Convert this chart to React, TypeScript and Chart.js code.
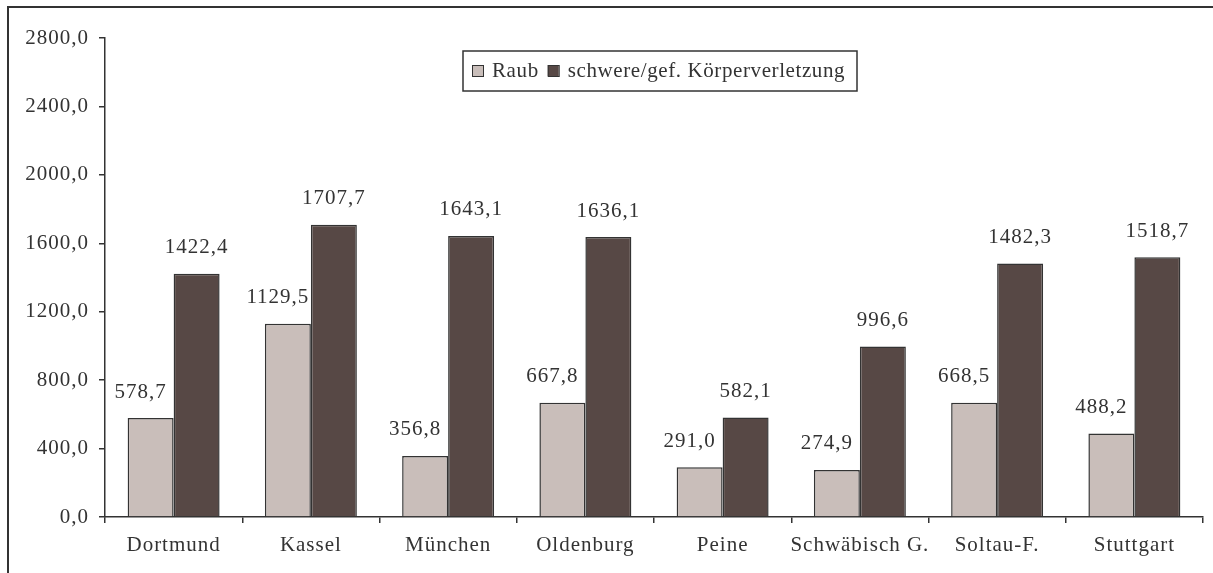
import React, { useEffect, useRef } from "react";
import { Chart, registerables } from "chart.js";

Chart.register(...registerables);

const categories = ["Dortmund", "Kassel", "München", "Oldenburg", "Peine", "Schwäbisch G.", "Soltau-F.", "Stuttgart"];
const raub = [578.7, 1129.5, 356.8, 667.8, 291.0, 274.9, 668.5, 488.2];
const koerper = [1422.4, 1707.7, 1643.1, 1636.1, 582.1, 996.6, 1482.3, 1518.7];
const seriesNames = ["Raub", "schwere/gef. Körperverletzung"];
const yMin = 0;
const yMax = 2800;
const yStep = 400;

const FONT = '"Liberation Serif"';
const TEXT = "#333333";
const EDGE = "#333333";
const COLORS = ["#C9BEBA", "#574845"];
const SPACING = "1px";
const LEGEND_SPACING = "0.6px";

const fmt = (v: number) => v.toFixed(1).replace(".", ",");

function drawLabels(chart: any, index: number, shift: number) {
  const { ctx } = chart;
  const meta = chart.getDatasetMeta(index);
  const ds = chart.data.datasets[index];
  ctx.save();
  ctx.font = `21px ${FONT}`;
  (ctx as any).letterSpacing = SPACING;
  ctx.fillStyle = TEXT;
  ctx.textAlign = "center";
  ctx.textBaseline = "middle";
  meta.data.forEach((el: any, i: number) => {
    ctx.fillText(fmt(ds.data[i]), el.x + shift, el.y - 26);
  });
  ctx.restore();
}

const labelsPlugin = {
  id: "valueLabels",
  beforeUpdate(chart: any) {
    (chart.ctx as any).letterSpacing = SPACING;
  },
  beforeDraw(chart: any) {
    (chart.ctx as any).letterSpacing = SPACING;
  },
  beforeDatasetsDraw(chart: any) {
    drawLabels(chart, 0, -10);
  },
  afterDatasetsDraw(chart: any) {
    drawLabels(chart, 1, 0);
  },
  afterDraw(chart: any) {
    const { ctx } = chart;
    ctx.save();
    (ctx as any).letterSpacing = LEGEND_SPACING;
    ctx.strokeStyle = EDGE;
    ctx.lineWidth = 2;
    ctx.strokeRect(8, 7, 1400, 800);
    const bx = 463, by = 51, bw = 394, bh = 40;
    ctx.fillStyle = "#ffffff";
    ctx.fillRect(bx, by, bw, bh);
    ctx.lineWidth = 1.5;
    ctx.strokeRect(bx, by, bw, bh);
    ctx.font = `21px ${FONT}`;
    ctx.textBaseline = "middle";
    ctx.textAlign = "left";
    const cy = by + bh / 2;
    let x = bx + 9;
    chart.data.datasets.forEach((ds: any) => {
      ctx.fillStyle = ds.backgroundColor;
      ctx.fillRect(x, cy - 6, 11, 11);
      ctx.lineWidth = 1;
      ctx.strokeStyle = EDGE;
      ctx.strokeRect(x + 0.5, cy - 5.5, 11, 11);
      ctx.fillStyle = TEXT;
      ctx.fillText(ds.label, x + 20, cy);
      x += 20 + ctx.measureText(ds.label).width + 9;
    });
    ctx.restore();
  },
};

export default function App() {
  const ref = useRef<HTMLCanvasElement | null>(null);

  useEffect(() => {
    if (!ref.current) return;
    const chart = new Chart(ref.current, {
      type: "bar",
      data: {
        labels: categories,
        datasets: [
          { label: seriesNames[0], data: raub, backgroundColor: COLORS[0], borderColor: EDGE, borderWidth: 1.5 },
          { label: seriesNames[1], data: koerper, backgroundColor: COLORS[1], borderColor: EDGE, borderWidth: 1.5 },
        ],
      },
      options: {
        animation: false,
        responsive: false,
        layout: { padding: { left: 0, top: 38, right: 10, bottom: 0 } },
        datasets: { bar: { categoryPercentage: 0.67, barPercentage: 1.0 } },
        plugins: {
          legend: { display: false },
          tooltip: { enabled: false },
          title: { display: false },
        },
        scales: {
          x: {
            grid: { display: true, drawOnChartArea: false, offset: true, tickLength: 6, color: EDGE, lineWidth: 1.5 },
            border: { display: true, color: EDGE, width: 1.5 },
            ticks: { color: TEXT, font: { family: FONT, size: 21 }, padding: 10, maxRotation: 0, autoSkip: false },
            afterFit: (s: any) => { s.height = 56; },
          },
          y: {
            min: yMin,
            max: yMax,
            grid: { display: true, drawOnChartArea: false, tickLength: 6, color: EDGE, lineWidth: 1.5 },
            border: { display: true, color: EDGE, width: 1.5 },
            ticks: {
              stepSize: yStep,
              color: TEXT,
              font: { family: FONT, size: 21 },
              padding: 10,
              callback: (v: any) => fmt(Number(v)),
            },
            afterFit: (s: any) => { s.width = 105; },
          },
        },
      },
      plugins: [labelsPlugin],
    });
    return () => chart.destroy();
  }, []);

  return (
    <div style={{ position: "absolute", left: 0, top: 0, width: 1213, height: 573, background: "#fff" }}>
      <canvas ref={ref} width={1213} height={573} style={{ display: "block" }} />
    </div>
  );
}
